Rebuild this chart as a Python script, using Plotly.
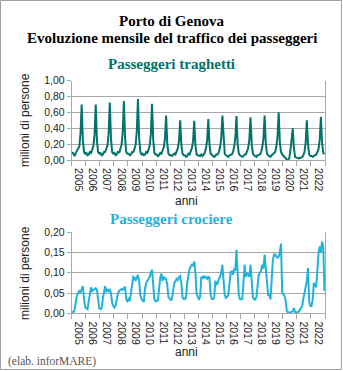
import plotly.graph_objects as go

# Monthly traffic, January 2005 - December 2022 (millions of passengers)
anni = [str(y) for y in range(2005, 2023)]

traghetti = [
    0.10, 0.07, 0.05, 0.09, 0.12, 0.14, 0.17, 0.33, 0.70, 0.26, 0.10, 0.08,   # 2005
    0.09, 0.06, 0.07, 0.10, 0.09, 0.13, 0.18, 0.32, 0.70, 0.25, 0.10, 0.08,   # 2006
    0.09, 0.06, 0.07, 0.10, 0.10, 0.14, 0.18, 0.34, 0.725, 0.27, 0.10, 0.08,  # 2007
    0.09, 0.06, 0.07, 0.11, 0.09, 0.14, 0.19, 0.35, 0.745, 0.28, 0.10, 0.08,  # 2008
    0.08, 0.06, 0.07, 0.10, 0.10, 0.14, 0.19, 0.36, 0.77, 0.28, 0.10, 0.07,   # 2009
    0.08, 0.06, 0.07, 0.10, 0.09, 0.13, 0.18, 0.33, 0.71, 0.26, 0.09, 0.07,   # 2010
    0.07, 0.05, 0.06, 0.09, 0.08, 0.12, 0.16, 0.27, 0.56, 0.21, 0.08, 0.06,   # 2011
    0.06, 0.05, 0.06, 0.08, 0.07, 0.11, 0.15, 0.24, 0.50, 0.19, 0.08, 0.06,   # 2012
    0.06, 0.04, 0.05, 0.08, 0.07, 0.11, 0.15, 0.24, 0.495, 0.18, 0.07, 0.06,  # 2013
    0.05, 0.05, 0.07, 0.05, 0.07, 0.09, 0.15, 0.25, 0.515, 0.19, 0.08, 0.06,  # 2014
    0.05, 0.04, 0.06, 0.07, 0.07, 0.10, 0.16, 0.27, 0.56, 0.21, 0.08, 0.06,   # 2015
    0.05, 0.04, 0.06, 0.07, 0.07, 0.10, 0.16, 0.27, 0.555, 0.20, 0.08, 0.06,  # 2016
    0.05, 0.04, 0.05, 0.07, 0.07, 0.10, 0.15, 0.26, 0.54, 0.20, 0.08, 0.06,   # 2017
    0.05, 0.04, 0.06, 0.07, 0.07, 0.10, 0.16, 0.27, 0.56, 0.21, 0.08, 0.06,   # 2018
    0.05, 0.04, 0.06, 0.07, 0.08, 0.10, 0.17, 0.29, 0.60, 0.22, 0.10, 0.07,   # 2019
    0.05, 0.04, 0.02, 0.003, 0.002, 0.02, 0.12, 0.25, 0.40, 0.15, 0.04, 0.03, # 2020
    0.025, 0.02, 0.025, 0.03, 0.035, 0.06, 0.10, 0.22, 0.50, 0.20, 0.07, 0.05,# 2021
    0.05, 0.04, 0.05, 0.07, 0.07, 0.10, 0.14, 0.26, 0.545, 0.22, 0.09, 0.075, # 2022
]

crociere = [
    0.005, 0.002, 0.01, 0.03, 0.045, 0.05, 0.055, 0.052, 0.06, 0.067, 0.035, 0.015,   # 2005
    0.012, 0.01, 0.03, 0.05, 0.064, 0.055, 0.058, 0.06, 0.062, 0.058, 0.03, 0.012,   # 2006
    0.01, 0.012, 0.035, 0.055, 0.067, 0.052, 0.06, 0.055, 0.058, 0.05, 0.025, 0.018, # 2007
    0.014, 0.02, 0.04, 0.05, 0.055, 0.058, 0.06, 0.058, 0.062, 0.066, 0.035, 0.03,   # 2008
    0.035, 0.03, 0.05, 0.075, 0.09, 0.088, 0.08, 0.088, 0.095, 0.08, 0.045, 0.035,   # 2009
    0.03, 0.028, 0.06, 0.075, 0.08, 0.085, 0.09, 0.10, 0.108, 0.07, 0.035, 0.03,     # 2010
    0.03, 0.032, 0.065, 0.088, 0.098, 0.08, 0.09, 0.085, 0.085, 0.07, 0.04, 0.035,   # 2011
    0.033, 0.035, 0.06, 0.075, 0.08, 0.085, 0.082, 0.09, 0.092, 0.075, 0.04, 0.035,  # 2012
    0.035, 0.04, 0.075, 0.10, 0.11, 0.115, 0.12, 0.118, 0.128, 0.10, 0.05, 0.04,     # 2013
    0.035, 0.04, 0.09, 0.085, 0.093, 0.088, 0.09, 0.085, 0.09, 0.088, 0.045, 0.035,  # 2014
    0.035, 0.038, 0.08, 0.07, 0.075, 0.085, 0.09, 0.10, 0.12, 0.08, 0.045, 0.038,    # 2015
    0.04, 0.045, 0.08, 0.10, 0.105, 0.095, 0.11, 0.105, 0.157, 0.10, 0.045, 0.035,   # 2016
    0.034, 0.035, 0.07, 0.12, 0.09, 0.10, 0.095, 0.09, 0.12, 0.085, 0.04, 0.035,     # 2017
    0.034, 0.04, 0.07, 0.095, 0.10, 0.105, 0.12, 0.11, 0.145, 0.11, 0.07, 0.045,     # 2018
    0.045, 0.034, 0.08, 0.13, 0.145, 0.145, 0.14, 0.137, 0.14, 0.15, 0.172, 0.05,    # 2019
    0.047, 0.043, 0.03, 0.005, 0.002, 0.002, 0.002, 0.003, 0.006, 0.013, 0.003, 0.002, # 2020
    0.002, 0.004, 0.008, 0.013, 0.017, 0.035, 0.05, 0.062, 0.08, 0.112, 0.03, 0.018, # 2021
    0.018, 0.034, 0.075, 0.068, 0.065, 0.105, 0.15, 0.165, 0.15, 0.177, 0.165, 0.055, # 2022
]

mesi = list(range(len(traghetti)))
W, H = 343, 371

TEAL = "#00736D"
CYAN = "#1FB3DC"
GRID = "#A8A8A8"
SANS = "Liberation Sans, Arial, sans-serif"
SERIF = "Liberation Serif, Times New Roman, serif"

fig = go.Figure()
fig.add_trace(go.Scatter(x=mesi, y=traghetti, mode="lines",
                         line=dict(color=TEAL, width=2), xaxis="x", yaxis="y",
                         hoverinfo="skip"))
fig.add_trace(go.Scatter(x=mesi, y=crociere, mode="lines",
                         line=dict(color=CYAN, width=2), xaxis="x2", yaxis="y2",
                         hoverinfo="skip"))

def px_x(v):
    return v / W

def px_y(v):
    return 1 - v / H

year_centres = [12 * i + 5.5 for i in range(len(anni))]
year_bounds = [12 * i - 0.5 for i in range(len(anni) + 1)]

xaxis_common = dict(
    range=[-0.5, len(mesi) - 0.5],
    domain=[px_x(71.7), px_x(325)],
    tickmode="array", tickvals=year_centres, ticktext=anni,
    tickangle=90, ticks="outside", ticklen=5, tickcolor="rgba(0,0,0,0)",
    tickfont=dict(family=SANS, size=10.5, color="#222"),
    showgrid=False, zeroline=False,
    showline=True, linecolor=GRID, linewidth=1,
    minor=dict(tickmode="array", tickvals=year_bounds, ticks="outside",
               ticklen=5, tickcolor=GRID, showgrid=False),
    automargin=False, fixedrange=True,
)
yaxis_common = dict(
    tickformat=".2f", ticks="outside", ticklen=4, tickcolor=GRID,
    tickfont=dict(family=SANS, size=10.5, color="#222"),
    showgrid=True, gridcolor=GRID, gridwidth=1, zeroline=False,
    showline=True, linecolor=GRID, linewidth=1, mirror=True,
    automargin=False, fixedrange=True,
)

fig.update_layout(
    width=W, height=H, margin=dict(l=0, r=0, t=0, b=0),
    template="none", paper_bgcolor="white", plot_bgcolor="white",
    showlegend=False, separators=",.",
    xaxis=dict(xaxis_common, anchor="y"),
    yaxis=dict(yaxis_common, domain=[px_y(160), px_y(80.7)], range=[0, 1.0], dtick=0.2),
    xaxis2=dict(xaxis_common, anchor="y2"),
    yaxis2=dict(yaxis_common, domain=[px_y(313.3), px_y(232.3)], range=[0, 0.2], dtick=0.05),
)

def note(text, x, y, size, color="#000", family=SERIF, bold=False, angle=0,
         xanchor="center"):
    fig.add_annotation(
        text=f"<b>{text}</b>" if bold else text,
        xref="paper", yref="paper", x=px_x(x), y=px_y(y),
        xanchor=xanchor, yanchor="middle", showarrow=False, textangle=angle,
        font=dict(family=family, size=size, color=color),
    )

note("Porto di Genova", 171.5, 21, 15, bold=True)
note("Evoluzione mensile del traffico dei passeggeri", 171.5, 38.5, 15, bold=True)
note("Passeggeri traghetti", 171.5, 64, 15, color=TEAL, bold=True)
note("Passeggeri crociere", 171.5, 219, 15, color=CYAN, bold=True)
note("milioni di persone", 25, 120, 12, color="#222", family=SANS, angle=-90)
note("milioni di persone", 25, 273, 12, color="#222", family=SANS, angle=-90)
note("anni", 186.5, 200.5, 12, color="#222", family=SANS)
note("anni", 186.5, 352, 12, color="#222", family=SANS)
note("(elab. inforMARE)", 6, 361.5, 11.5, color="#555", xanchor="left")

# outer frame
fig.add_shape(type="rect", xref="paper", yref="paper",
              x0=px_x(0.5), x1=px_x(341.5), y0=px_y(369.5), y1=px_y(0.5),
              line=dict(color="#A0A0A0", width=1), fillcolor="rgba(0,0,0,0)")

fig.write_html("out.html", config={"displayModeBar": False})
